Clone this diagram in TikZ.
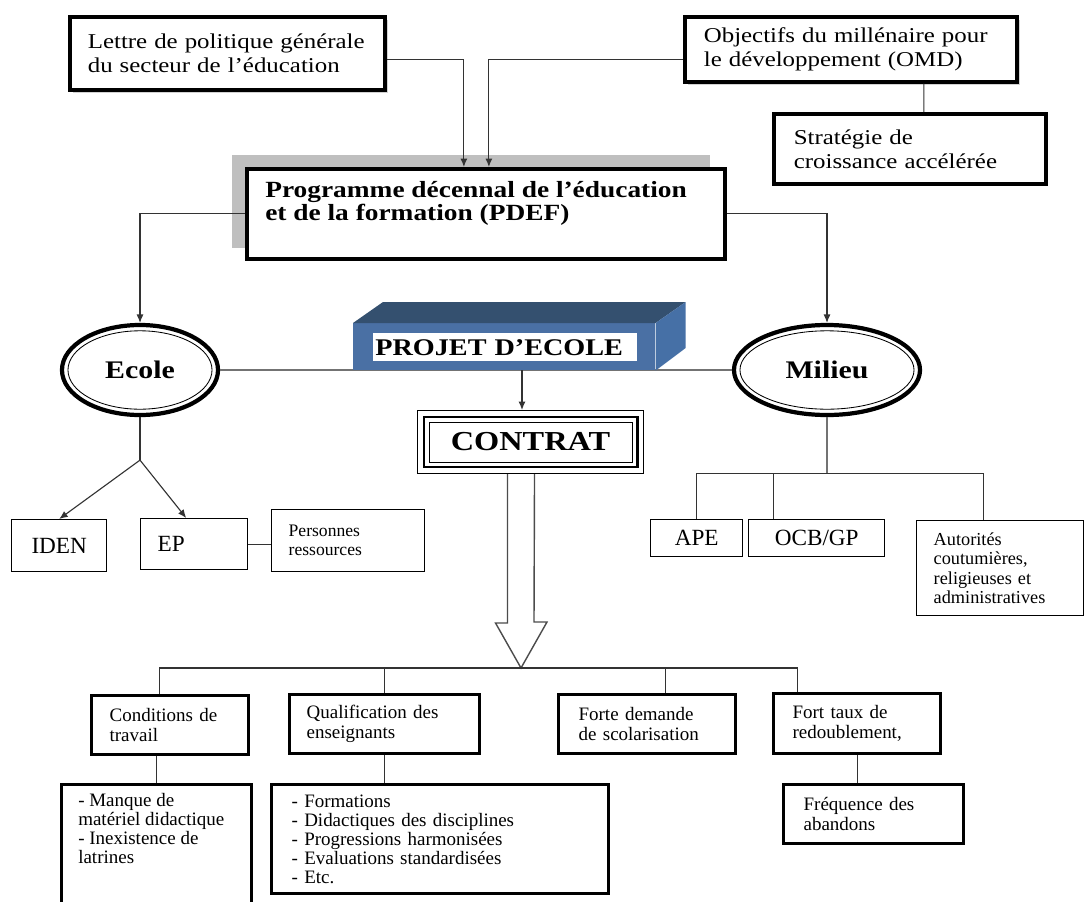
\documentclass[tikz,border=0pt]{standalone}
\usepackage{fontspec}
\setmainfont{Liberation Serif}
\newfontfamily\widefont{Liberation Serif}[FakeStretch=1.18]
\usetikzlibrary{arrows.meta,calc,shadows,shapes.geometric}

\definecolor{projfront}{HTML}{4A70A4}
\definecolor{projtop}{HTML}{34506F}
\definecolor{projside}{HTML}{4670A6}

\tikzset{
  heavybox/.style={draw, line width=2.6pt, fill=white, align=left, anchor=north west, inner ysep=0pt},
  midbox/.style={draw, line width=2.3pt, fill=white, align=left, anchor=north west, inner ysep=0pt},
  thinbox/.style={draw, line width=1pt, fill=white, align=left, anchor=north west, inner ysep=0pt},
  shade/.style={drop shadow={shadow xshift=2pt, shadow yshift=-2pt, opacity=0.35}},
  ring/.style={ellipse, draw, line width=3pt, fill=white, minimum height=2.25cm,
    font=\widefont\fontsize{18}{18}\selectfont\bfseries},
  link/.style={draw=black!80, line width=0.8pt},
  greylink/.style={draw=black!55, line width=1.2pt},
  hollow/.style={draw=black!70, line width=1pt, fill=white},
  bigtext/.style={font=\widefont\fontsize{15}{17}\selectfont},
  boldtext/.style={font=\widefont\fontsize{16.5}{16.5}\selectfont\bfseries},
  smalltext/.style={font=\fontsize{13.5}{14}\selectfont},
  listtext/.style={font=\fontsize{13.5}{13.5}\selectfont},
  tagtext/.style={font=\fontsize{16.5}{17}\selectfont},
}

\begin{document}
\begin{tikzpicture}[x=0.025cm, y=-0.025cm, >={Latex[length=6pt,width=5pt]}]
  \fill[white] (0,0) rectangle (1085,901);
  \useasboundingbox (0,0) rectangle (1085,901);

  % sources
  \node[heavybox, shade, bigtext, text width=6.975cm, inner xsep=0.45cm, minimum height=1.825cm] (lettre) at (68,15) {Lettre de politique générale\\du secteur de l’éducation};
  \node[heavybox, shade, bigtext, text width=7.35cm, inner xsep=0.475cm, minimum height=1.625cm] (omd) at (683,15) {Objectifs du millénaire pour\\le développement (OMD)};
  \node[heavybox, bigtext, text width=5.8cm, inner xsep=0.5cm, minimum height=1.75cm] (strat) at (772,112) {Stratégie de\\croissance accélérée};

  % PDEF
  \fill[black!25] (232,155) rectangle (710,248);
  \node[heavybox, minimum width=11.95cm, minimum height=2.25cm] (pdef) at (245,167) {};
  \node[anchor=north west, align=left, inner sep=0pt, boldtext] (pdeftxt) at ($(pdef.north west)+(20,14)$) {Programme décennal de l’éducation\\et de la formation (PDEF)};

  % Ecole et Milieu
  \node[ring, minimum width=3.9cm] (ecole) at (140,370) {Ecole};
  \draw[line width=0.6pt] (ecole.center) ellipse [x radius=1.8cm, y radius=0.98cm];
  \node[ring, minimum width=4.65cm] (milieu) at (827,370) {Milieu};
  \draw[line width=0.6pt] (milieu.center) ellipse [x radius=2.175cm, y radius=0.98cm];
  \draw[greylink] (ecole.east) -- (milieu.west);

  % Projet d'ecole
  \node[fill=projfront, anchor=north west, inner sep=0pt, minimum width=7.55cm, minimum height=1.175cm] (projet) at (353,323) {};
  \fill[projtop] (projet.north west) -- ++(30,-21) -- ($(projet.north east)+(30,-21)$) -- (projet.north east) -- cycle;
  \fill[projside] (projet.north east) -- ++(30,-21) -- ++(0,46) -- (projet.south east) -- cycle;
  \node[fill=white, anchor=north west, align=left, text width=6.5cm, inner xsep=0.05cm, minimum height=0.7cm,
    font=\widefont\fontsize{17}{17}\selectfont\bfseries] (projtxt) at (373,333) {PROJET D’ECOLE};

  % Contrat
  \node[draw, line width=0.7pt, anchor=north west, minimum width=5.65cm, minimum height=1.575cm,
    font=\widefont\fontsize{19.5}{19.5}\selectfont\bfseries] (contrat) at (417,410) {CONTRAT};
  \draw[line width=2.1pt] ($(contrat.north west)+(7,7)$) rectangle ($(contrat.south east)+(-7,-7)$);
  \draw[line width=0.6pt] ($(contrat.north west)+(12,12)$) rectangle ($(contrat.south east)+(-12,-12)$);
  \coordinate (pjfoot) at (522,370);
  \draw[link, ->] (pjfoot) -- (pjfoot |- contrat.north);

  \coordinate (tip) at (521,668);
  \draw[hollow] ($(contrat.south)+(-23,0)$) -- ++(0,149) -- ++(-12,0) -- (tip) -- ++(26,-46) -- ++(-13,0) -- ($(contrat.south)+(4,0)$);

  % cote Ecole
  \node[thinbox, tagtext, align=center, minimum width=2.375cm, minimum height=1.3cm] (iden) at (11,519) {IDEN};
  \node[thinbox, tagtext, text width=1.825cm, inner xsep=0.425cm, minimum height=1.275cm] (ep) at (140,518) {EP};
  \node[thinbox, font=\fontsize{12.5}{13.5}\selectfont, text width=2.975cm, inner xsep=0.425cm, minimum height=1.55cm] (pers) at (271,509) {Personnes\\ressources};

  % cote Milieu
  \node[thinbox, tagtext, align=center, minimum width=2.3cm, minimum height=0.925cm] (ape) at (650,519) {APE};
  \node[thinbox, tagtext, align=center, minimum width=3.4cm, minimum height=0.925cm] (ocb) at (748,519) {OCB/GP};
  \node[thinbox, font=\fontsize{13}{13.7}\selectfont, text width=3.325cm, inner xsep=0.425cm, minimum height=2.375cm] (aut) at (916,520) {Autorités\\coutumières,\\religieuses et\\administratives};

  % contraintes
  \node[midbox, smalltext, text width=3.025cm, inner xsep=0.45cm, minimum height=1.475cm] (cond) at (90,694) {Conditions de\\travail};
  \node[midbox, smalltext, text width=3.9cm, inner xsep=0.425cm, minimum height=1.475cm] (qual) at (288,693) {Qualification des\\enseignants};
  \node[midbox, smalltext, text width=3.425cm, inner xsep=0.5cm, minimum height=1.475cm] (forte) at (557,693) {Forte demande\\de scolarisation};
  \node[midbox, smalltext, text width=3.225cm, inner xsep=0.475cm, minimum height=1.5cm] (taux) at (772,692) {Fort taux de\\redoublement,};

  \node[midbox, minimum width=4.75cm, minimum height=3.6cm] (manque) at (60,783) {};
  \node[anchor=north west, align=left, inner sep=0pt, listtext] (manquetxt) at ($(manque.north west)+(18,10)$) {- Manque de\\matériel didactique\\- Inexistence de\\latrines};
  \node[midbox, listtext, text width=7.425cm, inner xsep=0.5cm, minimum height=2.725cm] (liste) at (270,783) {- Formations\\- Didactiques des disciplines\\- Progressions harmonisées\\- Evaluations standardisées\\- Etc.};
  \node[midbox, smalltext, text width=3.5cm, inner xsep=0.5cm, minimum height=1.475cm] (freq) at (782,783) {Fréquence des\\abandons};

  % liaisons du haut
  \draw[link, ->] ($(lettre.east)+(0,6)$) -| ($(pdef.north)+(-22,0)$);
  \draw[link, ->] ($(omd.west)+(0,10)$) -| ($(pdef.north)+(3,0)$);
  \draw[link] ($(omd.south)+(73,0)$) -- ($(strat.north)+(14,0)$);
  \draw[link, ->] (pdef.west) -| (ecole.north);
  \draw[link, ->] (pdef.east) -| (milieu.north);

  % liaisons Ecole
  \coordinate (ej) at ($(ecole.south)+(0,43)$);
  \draw[link] (ecole.south) -- (ej);
  \draw[link, ->] (ej) -- (iden.north);
  \draw[link, ->] (ej) -- ($(ep.north)+(-8,0)$);
  \draw[link] (ep.east) -- (pers.west |- ep.east);

  % liaisons Milieu
  \coordinate (mj) at ($(milieu.south)+(0,56)$);
  \draw[greylink] (milieu.south) -- (mj);
  \draw[link] (ape.north) |- (mj) -| ($(aut.north)+(-17,0)$);
  \draw[link] ($(ocb.north)+(-43,0)$) -- ++(0,-46);

  % liaisons du bas
  \draw[link] ($(cond.north)+(-11,0)$) |- (tip) -| ($(taux.north)+(-60,0)$);
  \draw[link] (qual.north) -- (qual.north |- tip);
  \draw[link] ($(forte.north)+(18,0)$) -- ++(0,-26);
  \draw[link] (manque.north) -- (manque.north |- cond.south);
  \draw[link] (qual.south) -- (qual.south |- liste.north);
  \draw[link] (taux.south) -- (taux.south |- freq.north);
\end{tikzpicture}
\end{document}
